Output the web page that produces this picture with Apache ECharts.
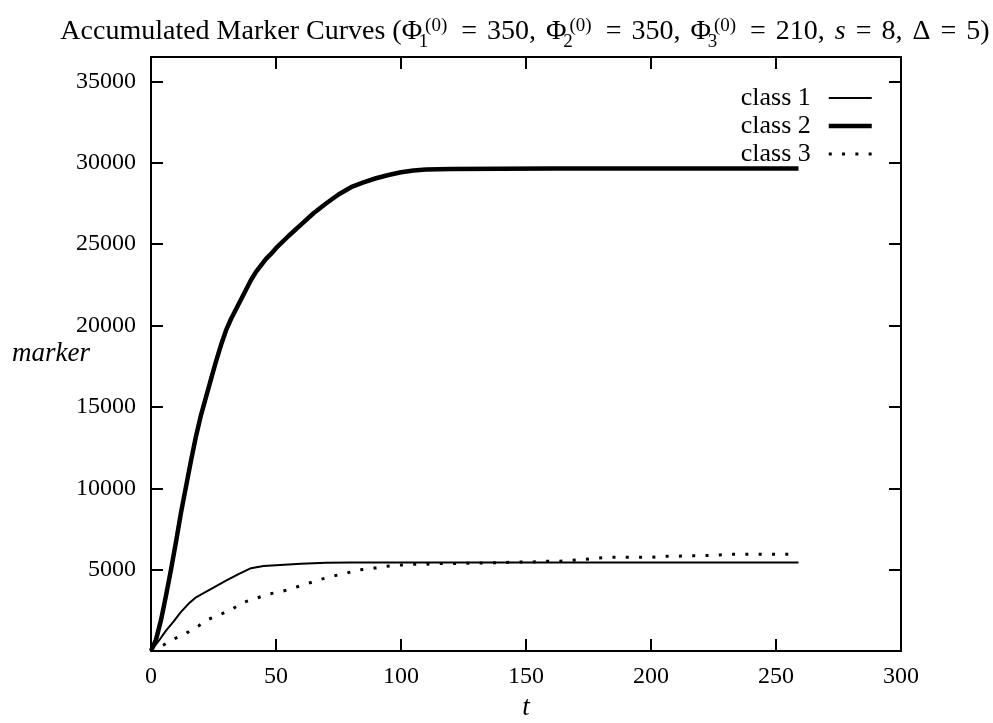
<!DOCTYPE html>
<html>
<head>
<meta charset="utf-8">
<script src="https://cdn.jsdelivr.net/npm/echarts@6/dist/echarts.min.js"></script>
<style>html,body{margin:0;padding:0;background:#fff}#c{width:993px;height:723px}</style>
</head>
<body>
<div id="c"></div>
<script>
const seriesNames = ['class 1', 'class 2', 'class 3'];
const xTicks = [0, 50, 100, 150, 200, 250, 300];
const yTicks = [5000, 10000, 15000, 20000, 25000, 30000, 35000];

const t1 = [0, 3, 6, 9, 12, 15, 18, 21, 25, 30, 35, 40, 45, 50, 60, 70, 80, 100, 150, 200, 259];
const class1 = [0, 600, 1250, 1800, 2400, 2900, 3300, 3550, 3900, 4320, 4720, 5090, 5220, 5270, 5360, 5430, 5440, 5440, 5440, 5440, 5440];

const t2 = [0, 2, 4, 6, 8, 10, 12, 14, 16, 18, 20, 22, 24, 26, 28, 30, 32, 34, 36, 38, 40, 42, 44, 46, 48, 50, 55, 60, 65, 70, 75, 80, 85, 90, 95, 100, 105, 110, 120, 140, 160, 200, 259];
const class2 = [0, 700, 1900, 3400, 5000, 6700, 8500, 10100, 11700, 13200, 14500, 15600, 16700, 17800, 18800, 19700, 20400, 21000, 21600, 22200, 22800, 23300, 23700, 24100, 24400, 24750, 25500, 26200, 26900, 27500, 28050, 28500, 28800, 29050, 29250, 29420, 29520, 29580, 29620, 29640, 29650, 29650, 29650];

const t3 = [0, 5, 9, 14, 19, 23, 28, 33, 37, 42, 47, 53, 58, 63, 68, 73, 78, 83, 89, 94, 99, 104, 110, 115, 120, 130, 140, 147, 152, 157, 163, 168, 173, 178, 184, 189, 194, 200, 205, 210, 216, 221, 226, 231, 237, 242, 247, 253, 259];
const class3 = [0, 370, 720, 1090, 1540, 1950, 2260, 2630, 2990, 3240, 3490, 3690, 3920, 4160, 4410, 4610, 4780, 4980, 5080, 5210, 5270, 5330, 5330, 5370, 5370, 5400, 5430, 5470, 5470, 5510, 5510, 5570, 5630, 5700, 5760, 5760, 5760, 5760, 5820, 5820, 5860, 5860, 5880, 5940, 5940, 5940, 5940, 5940, 5940];

const lineWidths = [2, 4.5, 3];

const pairs = (ts, vs) => ts.map((t, i) => [t, vs[i]]);
const FONT = '"Liberation Serif", "DejaVu Serif", serif';

const chart = echarts.init(document.getElementById('c'), null, {renderer: 'canvas'});

const axisCommon = {
  axisLine: {show: true, onZero: false, lineStyle: {color: '#000', width: 2}},
  axisTick: {show: true, inside: true, length: 12, lineStyle: {color: '#000', width: 2}},
  splitLine: {show: false}
};

const dotted = [3, 10.3];

chart.setOption({
  animation: false,
  backgroundColor: '#fff',
  title: {
    left: 525,
    top: 12,
    textAlign: 'center',
    padding: 0,
    text: 'Accumulated Marker Curves (Φ{sub|1}{sup|(0)}{eq|=}350{cm|,}Φ{sub|2}{sup|(0)}{eq|=}350{cm|,}Φ{sub|3}{sup|(0)}{eq|=}210{cm|,}{it|s}{eq|=}8{cm|,}Δ{eq|=}5)',
    textStyle: {
      fontFamily: FONT, fontSize: 28, fontWeight: 'normal', color: '#000', lineHeight: 40,
      rich: {
        sub: {fontFamily: FONT, fontSize: 19, color: '#000', lineHeight: 19, verticalAlign: 'bottom', width: 1, padding: [0, 0, 0, 1]},
        sup: {fontFamily: FONT, fontSize: 19, color: '#000', lineHeight: 19, verticalAlign: 'top', padding: [5, 4, 0, 1]},
        eq: {fontFamily: FONT, fontSize: 28, color: '#000', lineHeight: 40, padding: [0, 10, 0, 10]},
        cm: {fontFamily: FONT, fontSize: 28, color: '#000', lineHeight: 40, padding: [0, 10, 0, 0]},
        it: {fontFamily: FONT, fontSize: 28, fontStyle: 'italic', color: '#000', lineHeight: 40}
      }
    }
  },
  legend: {
    orient: 'vertical',
    right: 119,
    top: 84,
    align: 'right',
    itemWidth: 43,
    itemHeight: 14,
    itemGap: 0,
    padding: 0,
    itemStyle: {opacity: 0, borderWidth: 0},
    data: [
      {name: seriesNames[0], lineStyle: {width: lineWidths[0], color: '#000'}},
      {name: seriesNames[1], lineStyle: {width: lineWidths[1], color: '#000'}},
      {name: seriesNames[2], lineStyle: {width: lineWidths[2], color: '#000', type: dotted, cap: 'butt'}}
    ],
    textStyle: {fontFamily: FONT, fontSize: 26, color: '#000', lineHeight: 28, padding: [0, 13, 0, 0]}
  },
  grid: {left: 151, right: 92, top: 57, bottom: 72, containLabel: false, outerBoundsMode: 'none', show: false},
  xAxis: [
    Object.assign({
      type: 'value', position: 'bottom', min: 0, max: 300, interval: 50,
      name: 't', nameLocation: 'middle', nameGap: 57, nameMoveOverlap: false,
      nameTextStyle: {fontFamily: FONT, fontSize: 27, fontStyle: 'italic', color: '#000', verticalAlign: 'middle'},
      axisLabel: {
        fontFamily: FONT, fontSize: 24, color: '#000', margin: 14,
        formatter: v => (xTicks.indexOf(v) >= 0 ? String(v) : '')
      }
    }, axisCommon),
    Object.assign({
      type: 'value', position: 'top', min: 0, max: 300, interval: 50,
      axisLabel: {show: false}
    }, axisCommon)
  ],
  yAxis: [
    Object.assign({
      type: 'value', position: 'left', min: 0, max: 36500, interval: 5000,
      name: 'marker', nameLocation: 'middle', nameGap: 100, nameRotate: 0, nameMoveOverlap: false,
      nameTextStyle: {fontFamily: FONT, fontSize: 27, fontStyle: 'italic', color: '#000', align: 'center', verticalAlign: 'middle'},
      axisLabel: {
        fontFamily: FONT, fontSize: 24, color: '#000', margin: 15,
        formatter: v => (yTicks.indexOf(v) >= 0 ? String(v) : '')
      }
    }, axisCommon),
    Object.assign({
      type: 'value', position: 'right', min: 0, max: 36500, interval: 5000,
      axisLabel: {show: false}
    }, axisCommon)
  ],
  series: [
    {
      name: seriesNames[0], type: 'line', data: pairs(t1, class1),
      symbol: 'none', showSymbol: false, color: '#000',
      lineStyle: {color: '#000', width: lineWidths[0]}
    },
    {
      name: seriesNames[1], type: 'line', data: pairs(t2, class2),
      symbol: 'none', showSymbol: false, color: '#000',
      lineStyle: {color: '#000', width: lineWidths[1], join: 'round'}
    },
    {
      name: seriesNames[2], type: 'line', data: pairs(t3, class3),
      symbol: 'none', showSymbol: false, color: '#000',
      lineStyle: {color: '#000', width: lineWidths[2], type: dotted, cap: 'butt'}
    }
  ]
});
</script>
</body>
</html>
